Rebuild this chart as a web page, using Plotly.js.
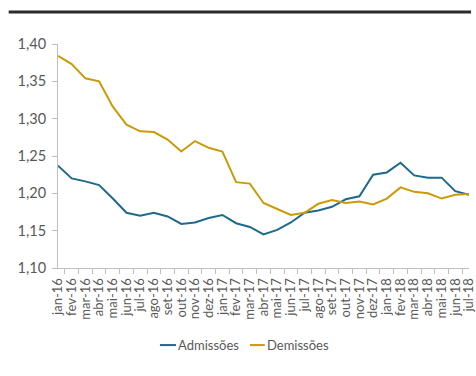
<!DOCTYPE html>
<html>
<head>
<meta charset="utf-8">
<script src="https://cdn.plot.ly/plotly-3.0.1.min.js"></script>
<style>
  html, body { margin: 0; padding: 0; background: #fff; }
  #chart { width: 476px; height: 376px; }
</style>
</head>
<body>
<div id="chart"></div>
<script>
// Monthly categories, Jan 2016 – Jul 2018
const months = [
  "jan-16","fev-16","mar-16","abr-16","mai-16","jun-16","jul-16","ago-16","set-16","out-16","nov-16","dez-16",
  "jan-17","fev-17","mar-17","abr-17","mai-17","jun-17","jul-17","ago-17","set-17","out-17","nov-17","dez-17",
  "jan-18","fev-18","mar-18","abr-18","mai-18","jun-18","jul-18"
];

const admissoes = [
  1.237, 1.220, 1.216, 1.211, 1.193, 1.174, 1.170, 1.174, 1.169, 1.159, 1.161, 1.167,
  1.171, 1.160, 1.155, 1.145, 1.151, 1.161, 1.174, 1.177, 1.182, 1.192, 1.196, 1.225,
  1.228, 1.241, 1.224, 1.221, 1.221, 1.203, 1.198
];

const demissoes = [
  1.384, 1.373, 1.354, 1.350, 1.316, 1.292, 1.283, 1.282, 1.272, 1.256, 1.270, 1.261,
  1.256, 1.215, 1.213, 1.187, 1.179, 1.171, 1.174, 1.186, 1.191, 1.187, 1.189, 1.185,
  1.193, 1.208, 1.202, 1.200, 1.193, 1.198, 1.199
];

const yTicks = [1.10, 1.15, 1.20, 1.25, 1.30, 1.35, 1.40];

const seriesNames = ["Admissões", "Demissões"];
const seriesColors = ["#1e6a8a", "#cc9a06"];

const grey = "#595959";
const axisGrey = "#bfbfbf";
const FONT = "Lato, 'Open Sans', sans-serif";

const traces = [admissoes, demissoes].map((vals, i) => ({
  x: months, y: vals, name: seriesNames[i], type: "scatter", mode: "lines",
  line: { color: seriesColors[i], width: 2 }, showlegend: false
}));

// Compact legend below the plot: short line sample followed by the series name
const legendY = -0.344;
const legendItems = [
  { line: [0.248, 0.287], text: 0.287 },
  { line: [0.467, 0.503], text: 0.503 }
];
const legendShapes = legendItems.map((it, i) => ({
  type: "line", xref: "paper", yref: "paper",
  x0: it.line[0], x1: it.line[1], y0: legendY, y1: legendY,
  line: { color: seriesColors[i], width: 2 }
}));
const legendLabels = legendItems.map((it, i) => ({
  xref: "paper", yref: "paper", x: it.text, y: legendY,
  xanchor: "left", yanchor: "middle", showarrow: false,
  text: seriesNames[i], font: { size: 13, color: grey, family: FONT }
}));

const layout = {
  width: 476, height: 376,
  margin: { l: 58, r: 7, t: 44, b: 108 },
  paper_bgcolor: "#fff", plot_bgcolor: "#fff",
  separators: ",.",
  font: { family: FONT, color: grey },
  showlegend: false,
  xaxis: {
    type: "category",
    tickmode: "array", tickvals: months, ticktext: months,
    tickangle: -90,
    tickson: "boundaries",
    ticks: "outside", ticklen: 5, tickcolor: axisGrey, tickwidth: 1,
    ticklabelstandoff: 4,
    showline: true, linecolor: axisGrey, linewidth: 1,
    showgrid: false, zeroline: false,
    tickfont: { size: 13, color: grey, family: FONT },
    fixedrange: true
  },
  yaxis: {
    range: [1.10, 1.40],
    tickvals: yTicks,
    tickformat: ".2f",
    ticks: "outside", ticklen: 5, tickcolor: axisGrey, tickwidth: 1,
    ticklabelstandoff: 3,
    showline: true, linecolor: axisGrey, linewidth: 1,
    showgrid: false, zeroline: false,
    tickfont: { size: 14.5, color: grey, family: FONT },
    fixedrange: true
  },
  shapes: [
    {
      type: "line", xref: "paper", yref: "paper",
      x0: -0.12, x1: 1.005, y0: 1.143, y1: 1.143,
      line: { color: "#2b2b2b", width: 3 }
    }
  ].concat(legendShapes),
  annotations: legendLabels
};

Plotly.newPlot("chart", traces, layout, { displayModeBar: false, staticPlot: true });
</script>
</body>
</html>
